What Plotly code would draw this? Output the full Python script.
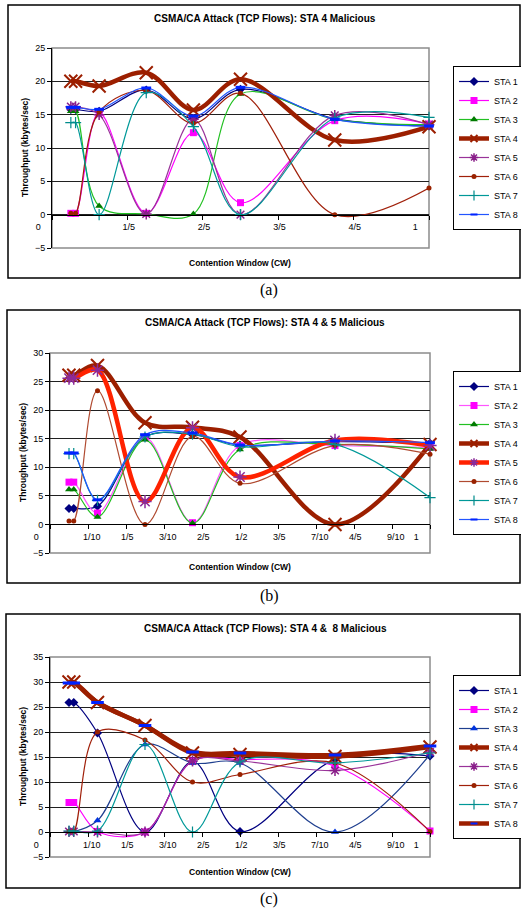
import plotly.graph_objects as go

# ---------------- data ----------------
cw = [0.05, 0.0625, 0.125, 0.25, 0.375, 0.5, 0.75, 1.0]
stations = ["STA 1", "STA 2", "STA 3", "STA 4", "STA 5", "STA 6", "STA 7", "STA 8"]

a_sta1 = [15.8, 15.8, 15.5, 18.7, 14.4, 18.8, 14.4, 13.3]
a_sta2 = [0.2, 0.2, 15.3, 0.2, 12.3, 1.8, 14.1, 13.6]
a_sta3 = [15.5, 15.5, 1.3, 0.1, 0.1, 18.1, 14.3, 13.5]
a_sta4 = [20.0, 20.0, 19.3, 21.3, 15.7, 20.3, 11.2, 13.2]
a_sta5 = [16.2, 16.2, 15.0, 0.1, 14.3, 0.0, 14.9, 13.5]
a_sta6 = [0.2, 0.2, 15.4, 18.6, 13.7, 18.2, 0.0, 4.0]
a_sta7 = [13.8, 13.8, 0.0, 18.3, 13.2, 0.0, 14.5, 14.6]
a_sta8 = [16.1, 16.1, 15.8, 19.0, 14.8, 19.1, 14.3, 13.3]

b_sta1 = [2.8, 2.8, 3.2, 15.3, 15.7, 13.9, 14.5, 14.2]
b_sta2 = [7.4, 7.4, 2.0, 15.2, 0.3, 13.8, 13.8, 13.5]
b_sta3 = [6.1, 6.1, 1.3, 14.8, 0.2, 13.1, 14.0, 13.2]
b_sta4 = [26.1, 26.1, 27.8, 17.8, 17.0, 15.3, 0.0, 14.0]
b_sta5 = [25.6, 25.6, 27.0, 4.0, 16.9, 8.3, 14.7, 13.8]
b_sta6 = [0.6, 0.6, 23.4, 0.0, 15.4, 7.2, 13.8, 12.3]
b_sta7 = [12.4, 12.4, 4.2, 15.3, 15.8, 13.6, 14.0, 4.7]
b_sta8 = [12.5, 12.5, 4.3, 15.7, 16.0, 13.9, 14.6, 14.3]

c_sta1 = [25.9, 25.9, 19.8, 0.0, 14.1, 0.1, 14.5, 15.2]
c_sta2 = [5.9, 5.9, 0.1, 0.0, 14.2, 14.5, 13.2, 0.2]
c_sta3 = [0.1, 0.1, 2.3, 17.5, 13.8, 13.8, 0.0, 15.5]
c_sta4 = [30.0, 30.0, 25.9, 21.3, 15.8, 15.5, 15.1, 17.0]
c_sta5 = [0.1, 0.1, 0.0, 0.0, 14.2, 14.2, 12.3, 16.0]
c_sta6 = [0.1, 0.1, 20.0, 18.4, 10.0, 11.5, 13.8, 0.1]
c_sta7 = [0.2, 0.2, 0.2, 17.5, 0.0, 14.0, 13.8, 15.8]
c_sta8 = [29.8, 29.8, 25.9, 21.3, 16.0, 15.8, 15.4, 17.2]

ticks_a_vals = [0, 0.2, 0.4, 0.6, 0.8, 1.0]
ticks_a_text = ["0", "1/5", "2/5", "3/5", "4/5", "1"]
ticks_bc_vals = [0, 0.1, 0.2, 0.3, 0.4, 0.5, 0.6, 0.7, 0.8, 0.9, 1.0]
ticks_bc_text = ["0", "1/10", "1/5", "3/10", "2/5", "1/2", "3/5", "7/10", "4/5", "9/10", "1"]

titles = ["CSMA/CA Attack (TCP Flows): STA 4 Malicious",
          "CSMA/CA Attack (TCP Flows): STA 4 &amp; 5 Malicious",
          "CSMA/CA Attack (TCP Flows): STA 4 &amp;  8 Malicious"]
captions = ["(a)", "(b)", "(c)"]

# ---------------- styling ----------------
W, H = 521, 911
FONT = "Arial, Liberation Sans, sans-serif"
NB = "\u00a0"


def pad(lbl):
    # mimic Excel fraction-format alignment of axis labels
    if "/" not in lbl:
        return lbl + NB * 11
    den = lbl.split("/")[1]
    return (NB * 3 if len(den) == 2 else NB) + lbl


def fx(x):
    return x / W


def fy(y):
    return 1 - y / H


DKRED = "#9C1F00"
# lc line colour, w line width, sym marker, ms plot marker size, ls legend marker size
base_style = {
    "STA 1": dict(lc="#000080", w=1.2, sym="diamond", ms=7, ls=7, mc="#000080", mlw=0),
    "STA 2": dict(lc="#FF00FF", w=1.2, sym="square", ms=7, ls=7, mc="#FF00FF", mlw=0),
    "STA 3": dict(lc="#22C022", w=1.2, sym="triangle-up", ms=7, ls=7, mc="#007A00", mlw=0),
    "STA 4": dict(lc=DKRED, w=4.5, sym="x-thin-open", ms=13, ls=7, mc=DKRED, mlw=2),
    "STA 5": dict(lc="#993399", w=1.2, sym="asterisk-open", ms=9, ls=7, mc="#8A1F8A", mlw=1.5),
    "STA 6": dict(lc="#A0200A", w=1.2, sym="circle", ms=5, ls=5, mc="#992200", mlw=0),
    "STA 7": dict(lc="#009999", w=1.2, sym="cross-thin-open", ms=8, ls=7, mc="#008C8C", mlw=1.2),
    "STA 8": dict(lc="#2255FF", w=1.2, sym="line-ew-open", ms=7, ls=5, mc="#0022FF", mlw=3),
}

panel_styles = [
    {},
    {"STA 5": dict(lc="#FF2200", w=4.5, sym="asterisk-open", ms=11, ls=7, mc="#8A2A9A", mlw=1.5),
     "STA 2": dict(lc="#FF55FF", w=1.2, sym="square", ms=7, ls=7, mc="#FF00FF", mlw=0),
     "STA 6": dict(lc="#B04A30", w=1.2, sym="circle", ms=5, ls=5, mc="#992200", mlw=0)},
    {"STA 3": dict(lc="#1F3F8F", w=1.2, sym="triangle-up", ms=7, ls=7, mc="#0033DD", mlw=0),
     "STA 8": dict(lc=DKRED, w=4.5, sym="line-ew-open", ms=9, ls=5, mc="#0022FF", mlw=3)},
]

panel_data = [
    [a_sta1, a_sta2, a_sta3, a_sta4, a_sta5, a_sta6, a_sta7, a_sta8],
    [b_sta1, b_sta2, b_sta3, b_sta4, b_sta5, b_sta6, b_sta7, b_sta8],
    [c_sta1, c_sta2, c_sta3, c_sta4, c_sta5, c_sta6, c_sta7, c_sta8],
]

# pixel layout of each panel
panels = [
    dict(box=(8, 520, 5, 278), plot=(52, 429, 48, 248), yr=(-5, 25), title_y=18,
         xt_y=263, yt_x=25, leg_y=148, cap_y=290, tv=ticks_a_vals, tt=ticks_a_text),
    dict(box=(7, 520, 310, 583), plot=(50, 430, 353, 553), yr=(-5, 30), title_y=323,
         xt_y=567, yt_x=23, leg_y=453, cap_y=596, tv=ticks_bc_vals, tt=ticks_bc_text),
    dict(box=(6, 520, 614, 888), plot=(50, 430, 657, 857), yr=(-5, 35), title_y=628,
         xt_y=872, yt_x=23, leg_y=757, cap_y=899, tv=ticks_bc_vals, tt=ticks_bc_text),
]

fig = go.Figure()
layout = dict(width=W, height=H, autosize=False,
              margin=dict(l=0, r=0, t=0, b=0, pad=0, autoexpand=False),
              paper_bgcolor="white", plot_bgcolor="white", showlegend=True)
shapes, annotations = [], []

for i, p in enumerate(panels):
    k = "" if i == 0 else str(i + 1)
    xa, ya, lg = "x" + k, "y" + k, "legend" + k
    x0, x1, y0, y1 = p["plot"]
    ymin, ymax = p["yr"]
    dom_y = [fy(y1), fy(y0)]
    zero_pos = dom_y[0] + (0 - ymin) / (ymax - ymin) * (dom_y[1] - dom_y[0])

    layout["xaxis" + k] = dict(domain=[fx(x0), fx(x1)], range=[0, 1], anchor="free",
                               position=zero_pos, showgrid=False, zeroline=False,
                               showline=True, linecolor="black", linewidth=1,
                               ticks="outside", ticklen=4, tickcolor="black",
                               tickvals=p["tv"], ticktext=[pad(t) for t in p["tt"]],
                               tickfont=dict(family=FONT, size=9, color="black"),
                               automargin=False, fixedrange=True)
    layout["yaxis" + k] = dict(domain=dom_y, range=[ymin, ymax], anchor=xa, dtick=5,
                               showgrid=True, gridcolor="#202020", gridwidth=1,
                               zeroline=False, showline=True, linecolor="black",
                               ticks="outside", ticklen=4, tickcolor="black",
                               tickfont=dict(family=FONT, size=9, color="black"),
                               automargin=False, fixedrange=True)
    layout[lg] = dict(x=fx(453), xanchor="left", y=fy(p["leg_y"]), yanchor="middle",
                      bgcolor="white", bordercolor="black", borderwidth=1,
                      font=dict(family=FONT, size=9, color="black"),
                      itemwidth=30, tracegroupgap=0)

    for name, vals in zip(stations, panel_data[i]):
        s = dict(base_style[name])
        s.update(panel_styles[i].get(name, {}))
        line = dict(shape="spline", smoothing=1, color=s["lc"], width=s["w"])
        fig.add_trace(go.Scatter(
            x=cw, y=vals, name=name, mode="lines+markers", showlegend=False,
            xaxis=xa, yaxis=ya, cliponaxis=False, line=line,
            marker=dict(symbol=s["sym"], size=s["ms"], color=s["mc"],
                        line=dict(color=s["mc"], width=s["mlw"])),
        ))
        # legend entry (no data, smaller marker like the Excel legend key)
        fig.add_trace(go.Scatter(
            x=[None], y=[None], name=name, mode="lines+markers", showlegend=True,
            xaxis=xa, yaxis=ya, legend=lg, line=line,
            marker=dict(symbol=s["sym"], size=s["ls"], color=s["mc"],
                        line=dict(color=s["mc"], width=min(s["mlw"], 2))),
        ))

    # plot-area border (gray) and outer chart box
    shapes.append(dict(type="rect", xref="paper", yref="paper", x0=fx(x0), x1=fx(x1),
                       y0=fy(y1), y1=fy(y0), line=dict(color="#8C8C8C", width=1.5),
                       layer="below"))
    bx0, bx1, by0, by1 = p["box"]
    shapes.append(dict(type="rect", xref="paper", yref="paper", x0=fx(bx0), x1=fx(bx1),
                       y0=fy(by1), y1=fy(by0), line=dict(color="black", width=1.5)))

    annotations += [
        dict(text="<b>" + titles[i] + "</b>", x=fx(265), y=fy(p["title_y"]), xref="paper",
             yref="paper", showarrow=False, xanchor="center", yanchor="middle",
             font=dict(family=FONT, size=10, color="black")),
        dict(text="<b>Contention Window (CW)</b>", x=fx(240), y=fy(p["xt_y"]), xref="paper",
             yref="paper", showarrow=False, xanchor="center", yanchor="middle",
             font=dict(family=FONT, size=8.5, color="black")),
        dict(text="<b>Throughput (kbytes/sec)</b>", x=fx(p["yt_x"]), y=(dom_y[0] + dom_y[1]) / 2,
             xref="paper", yref="paper", showarrow=False, textangle=-90,
             xanchor="center", yanchor="middle",
             font=dict(family=FONT, size=8.5, color="black")),
        dict(text=captions[i], x=fx(269), y=fy(p["cap_y"]), xref="paper", yref="paper",
             showarrow=False, xanchor="center", yanchor="middle",
             font=dict(family="Liberation Serif, Times New Roman, serif", size=16,
                       color="black")),
    ]

layout["shapes"] = shapes
layout["annotations"] = annotations
fig.update_layout(**layout)
# remove the browser's default 8px page margin so the figure fills the window
fig.write_html("out.html", config={"displayModeBar": False},
               post_script="document.body.style.margin='0';document.body.style.overflow='hidden';")
